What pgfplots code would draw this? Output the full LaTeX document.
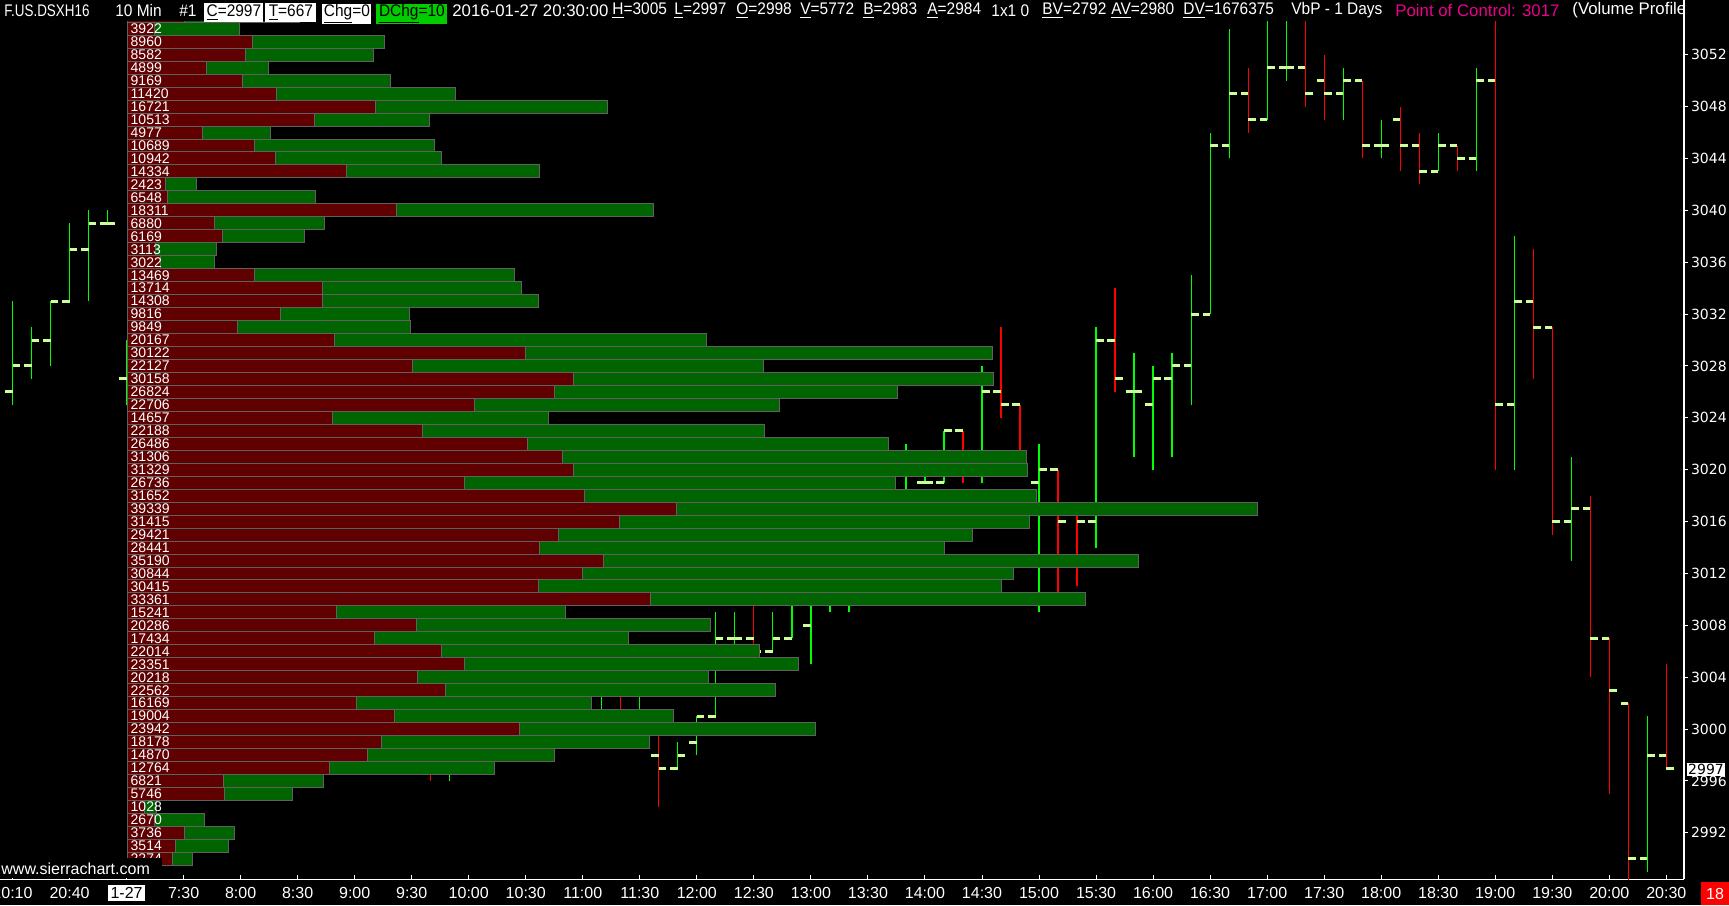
\documentclass[border=0pt]{standalone}
\usepackage{pgfplots}
\pgfplotsset{compat=1.18}
\usepackage{pgfplotstable}
\usepackage{fontspec}
\setmainfont{Liberation Sans}
\newfontfamily\dv{DejaVu Sans}
\newfontfamily\hdr{Liberation Sans}[FakeStretch=0.92]
\newfontfamily\hdrn{Liberation Sans}[FakeStretch=0.8]
\definecolor{vpred}{HTML}{600000}
\definecolor{vpgreen}{HTML}{006400}
\definecolor{vpedge}{HTML}{606060}
\definecolor{upbar}{HTML}{00FF00}
\definecolor{dnbar}{HTML}{FF0000}
\definecolor{ohlc}{HTML}{CCFF99}
\definecolor{dchg}{HTML}{00CC00}

% volume profile: price, total volume, bid (red) part
\pgfplotstableread{
price total red
3055 5990 2000
3054 3922 960
3053 8960 4347
3052 8582 4121
3051 4899 2761
3050 9169 4013
3049 11420 5200
3048 16721 8648
3047 10513 6525
3046 4977 2600
3045 10689 4443
3044 10942 5142
3043 14334 7638
3042 2423 1333
3041 6548 1413
3040 18311 9355
3039 6880 3018
3038 6169 3330
3037 3113 964
3036 3022 1160
3035 13469 4443
3034 13714 6778
3033 14308 6778
3032 9816 5349
3031 9849 3852
3030 20167 7197
3029 30122 13844
3028 22127 9912
3027 30158 15534
3026 26824 14881
3025 22706 12078
3024 14657 7151
3023 22188 10273
3022 26486 13921
3021 31306 15150
3020 31329 15534
3019 26736 11732
3018 31652 15918
3017 39339 19105
3016 31415 17147
3015 29421 14996
3014 28441 14343
3013 35190 16571
3012 30844 15841
3011 30415 14305
3010 33361 18222
3009 15241 7289
3008 20286 10054
3007 17434 8614
3006 22014 10925
3005 23351 11732
3004 20218 10111
3003 22562 11079
3002 16169 7961
3001 19004 9309
3000 23942 13652
2999 18178 8856
2998 14870 8345
2997 12764 7024
2996 6821 3364
2995 5746 3399
2994 1028 614
2993 2670 952
2992 3736 2008
2991 3514 1694
2990 2274 1578
}\profile

% 10 min OHLC bars, x = bar index
\pgfplotstableread{
i O H L C
0 3026 3033 3025 3028
1 3028 3031 3027 3030
2 3030 3033 3028 3033
3 3033 3039 3033 3037
4 3037 3040 3033 3039
5 3039 3040 3039 3039
6 3027 3030 3025 3028
23 2997 3000 2996 2999
31 3003 3006 3001 3004
33 3000 3003 2999 3001
35 2997 2999 2997 2998
36 2999 3001 2998 3001
37 3001 3009 3001 3007
38 3007 3009 3006 3007
40 3006 3009 3006 3007
41 3007 3010 3007 3010
42 3008 3011 3005 3010
43 3010 3012 3009 3011
44 3011 3014 3009 3013
45 3013 3017 3012 3016
46 3016 3020 3015 3018
47 3018 3022 3018 3020
48 3019 3020 3019 3019
49 3019 3023 3019 3023
51 3020 3028 3019 3026
54 3019 3022 3009 3020
57 3016 3031 3014 3030
59 3026 3029 3021 3026
60 3025 3028 3020 3027
61 3027 3029 3021 3028
62 3028 3035 3025 3032
63 3032 3046 3032 3045
64 3045 3054 3044 3049
66 3047 3055 3047 3051
67 3051 3055 3050 3051
70 3049 3051 3047 3050
72 3045 3047 3044 3045
75 3043 3046 3043 3045
77 3044 3051 3043 3050
79 3025 3038 3020 3033
82 3016 3021 3013 3017
86 2990 3001 2989 2998
}\upbars

\pgfplotstableread{
i O H L C
22 3001 3004 2996 2997
32 3004 3005 3000 3001
34 2998 3000 2994 2997
39 3007 3010 3005 3006
50 3023 3023 3019 3020
52 3026 3031 3024 3025
53 3025 3025 3020 3020
55 3020 3020 3010 3016
56 3017 3017 3011 3016
58 3030 3034 3026 3027
65 3049 3051 3046 3047
68 3051 3055 3048 3049
69 3050 3052 3047 3049
71 3050 3050 3044 3045
73 3047 3048 3043 3045
74 3045 3046 3042 3043
76 3045 3045 3043 3044
78 3050 3055 3020 3025
80 3033 3037 3027 3031
81 3031 3031 3015 3016
83 3017 3018 3004 3007
84 3007 3007 2995 3003
85 3002 3002 2988 2990
87 2998 3005 2997 2997
}\dnbars

\pgfplotsset{
  chartbox/.style={
    at={(0pt,12.85pt)}, anchor=south west,
    scale only axis, width=842pt, height=439.65pt,
    ymin=2988.42, ymax=3056.22,
  },
}

\begin{document}
\begin{tikzpicture}
\fill[black] (0pt,0pt) rectangle (864.5pt,452.5pt);

% price bars
\begin{axis}[
    chartbox,
    xmin=-0.658, xmax=87.93,
    axis x line*=bottom, axis y line*=right,
    axis line style={white, line width=0.6pt, -},
    xtick={0,3,...,87},
    xticklabels={20:10,20:40,{\setlength\fboxsep{1.2pt}\colorbox{white}{\textcolor{black}{1-27}}},7:30,8:00,8:30,9:00,9:30,10:00,10:30,11:00,11:30,12:00,12:30,13:00,13:30,14:00,14:30,15:00,15:30,16:00,16:30,17:00,17:30,18:00,18:30,19:00,19:30,20:00,20:30},
    ytick={2992,2996,...,3052},
    xtick align=inside, ytick align=outside,
    major tick length=2pt,
    tick style={white, line width=0.5pt},
    xticklabel style={text=white, font=\fontsize{8}{9}\selectfont, anchor=base, yshift=-9.6pt},
    yticklabel style={text=white, font=\dv\fontsize{7}{8}\selectfont, xshift=-2pt},
    /pgf/number format/assume math mode=true,
    /pgf/number format/1000 sep={},
]
\addplot[quiver={u=0,v=\thisrow{H}-\thisrow{L}}, draw=upbar, line width=0.6pt] table[x=i, y=L]{\upbars};
\addplot[quiver={u=0,v=\thisrow{H}-\thisrow{L}}, draw=dnbar, line width=0.6pt] table[x=i, y=L]{\dnbars};
\addplot[quiver={u=-0.4,v=0}, draw=ohlc, line width=1.5pt] table[x=i, y=O]{\upbars};
\addplot[quiver={u=0.4,v=0}, draw=ohlc, line width=1.5pt] table[x=i, y=C]{\upbars};
\addplot[quiver={u=-0.4,v=0}, draw=ohlc, line width=1.5pt] table[x=i, y=O]{\dnbars};
\addplot[quiver={u=0.4,v=0}, draw=ohlc, line width=1.5pt] table[x=i, y=C]{\dnbars};
\end{axis}

% volume profile over the bars
\begin{axis}[
    chartbox,
    xmin=-4431, xmax=54184,
    hide axis,
]
\addplot[xbar, bar shift=0pt, bar width=1, fill=vpgreen, draw=vpedge, line width=0.5pt] table[x=total, y=price]{\profile};
\addplot[xbar, bar shift=0pt, bar width=1, fill=vpred, draw=vpedge, line width=0.5pt] table[x=red, y=price]{\profile};
\addplot[draw=none, nodes near coords, point meta=explicit symbolic,
    nodes near coords style={text=white, font=\fontsize{7}{7}\selectfont, anchor=west, inner xsep=1.5pt, inner ysep=0pt}]
    table[x expr=0, y=price, meta=total]{\profile};
\end{axis}

% header line
\begin{scope}
\clip (0pt,0pt) rectangle (841.6pt,452.5pt);
\fill[black] (0pt,442pt) rectangle (841.6pt,452.5pt);
\begin{scope}[every node/.style={anchor=west, inner sep=0pt, text=white, font=\hdr\fontsize{8.4}{9}\selectfont}]
\node[font=\hdrn\fontsize{8.4}{9}\selectfont] at (2pt,447.3pt) {F.US.DSXH16};
\node at (57.5pt,447.3pt) {10 Min};
\node at (89.5pt,447.3pt) {\#1};
\node[fill=white, text=black, minimum width=29.5pt, minimum height=9.5pt, anchor=base west] at (102pt,444.3pt) {\underline{C}=2997};
\node[fill=white, text=black, minimum width=25.5pt, minimum height=9.5pt, anchor=base west] at (132.5pt,444.3pt) {\underline{T}=667};
\node[fill=white, text=black, minimum width=24.5pt, minimum height=9.5pt, anchor=base west] at (161pt,444.3pt) {\underline{Chg}=0};
\node[fill=dchg, text=black, minimum width=35.5pt, minimum height=9.5pt, anchor=base west] at (188pt,444.3pt) {\underline{DChg}=10};
\node[font=\fontsize{8.4}{9}\selectfont] at (226pt,447.3pt) {2016-01-27 20:30:00};
\node at (306pt,447.3pt) {\underline{H}=3005};
\node at (337pt,447.3pt) {\underline{L}=2997};
\node at (368pt,447.3pt) {\underline{O}=2998};
\node at (400pt,447.3pt) {\underline{V}=5772};
\node at (431.5pt,447.3pt) {\underline{B}=2983};
\node at (463.5pt,447.3pt) {\underline{A}=2984};
\node at (495.5pt,447.3pt) {1x1 0};
\node at (521pt,447.3pt) {\underline{BV}=2792};
\node at (555.5pt,447.3pt) {\underline{AV}=2980};
\node at (591.5pt,447.3pt) {\underline{DV}=1676375};
\node at (645.5pt,447.3pt) {VbP - 1 Days};
\node[text=magenta, font=\fontsize{8.4}{9}\selectfont] at (697.5pt,447.3pt) {Point of Control: 3017};
\node[font=\fontsize{8.4}{9}\selectfont] at (786pt,447.3pt) {(Volume Profile};
\end{scope}
\end{scope}

% corner items
\fill[black] (0pt,13.3pt) rectangle (81pt,23.5pt);
\node[anchor=west, inner sep=0pt, text=white, font=\fontsize{8}{9}\selectfont] at (0.5pt,18.2pt) {www.sierrachart.com};
\fill[red] (850.5pt,0pt) rectangle (864.5pt,11.5pt);
\node[text=white, inner sep=0pt, font=\fontsize{8}{9}\selectfont] at (857.5pt,5.75pt) {18};
\node[anchor=west, fill=white, text=black, inner xsep=0.6pt, inner ysep=0.8pt, font=\dv\fontsize{7}{8}\selectfont] at (843.3pt,67.7pt) {2997};

\pgfresetboundingbox
\path (0pt,0pt) rectangle (864.5pt,452.5pt);
\end{tikzpicture}
\end{document}
